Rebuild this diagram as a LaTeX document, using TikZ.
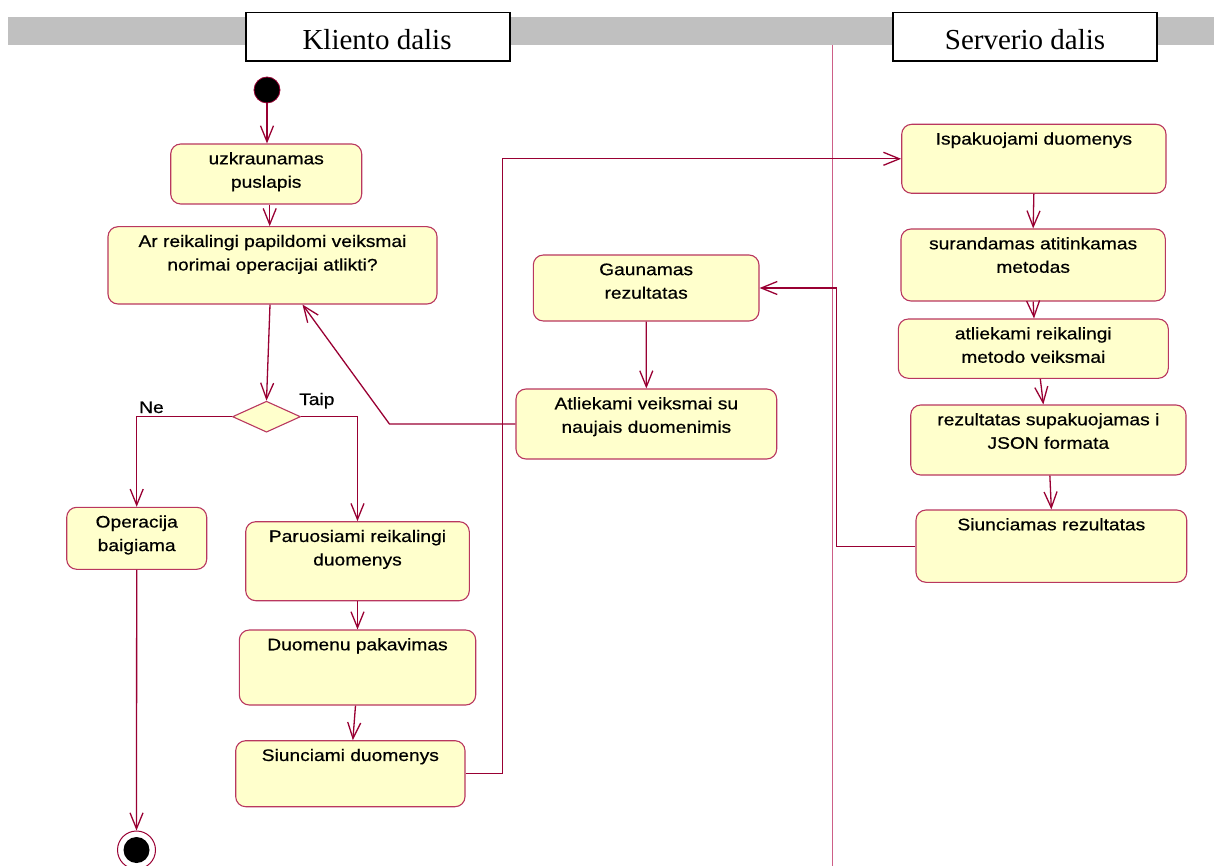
\documentclass[tikz,border=0pt]{standalone}
\usepackage{fontspec}
\usetikzlibrary{arrows.meta,shapes.geometric,fit}
\newfontfamily\umlfont[FakeStretch=1.15,FakeBold=0.6]{Liberation Sans}
\newfontfamily\headfont{Liberation Serif}

\definecolor{umlfill}{RGB}{255,255,204}
\definecolor{umlline}{RGB}{153,0,51}
\definecolor{umlborder}{RGB}{185,55,95}
\definecolor{laneline}{RGB}{205,95,135}
\definecolor{bandgray}{RGB}{192,192,192}

\tikzset{
  actbox/.style={draw=umlborder, line width=1.1pt, fill=umlfill, rounded corners=10pt, inner sep=0pt},
  acttext/.style={font=\umlfont\fontsize{16.7}{23.5}\selectfont, align=center, inner sep=0pt, text=black},
  flow/.style={draw=umlline, line width=1.3pt, -{Straight Barb[length=16pt,width=13pt]}},
  wire/.style={draw=umlline, line width=1.3pt},
  lanehead/.style={draw=black, line width=1.4pt, fill=white, inner sep=0pt},
  headtext/.style={font=\headfont\fontsize{29}{32}\selectfont, inner sep=0pt},
  guard/.style={font=\umlfont\fontsize{16.7}{20}\selectfont, inner sep=0pt},
  decision/.style={diamond, draw=umlborder, line width=1.1pt, fill=umlfill, inner sep=0pt,
                   minimum width=68pt, minimum height=31pt},
}

% activity box: name, left, top, right, bottom, label (top-aligned)
\newcommand\umlact[6]{%
  \node[actbox, fit={(#2,#3) (#4,#5)}] (#1) {};
  \node[acttext, anchor=north] (#1-t) at ([yshift=-8.5pt]#1.north) {\rule{0pt}{12pt}#6};
}

\begin{document}
\begin{tikzpicture}[x=1pt, y=-1pt]
\useasboundingbox (0,0) rectangle (1214,866);

% swimlane header band and divider
\fill[bandgray] (8,17) rectangle (1214,45);
\draw[laneline, line width=1pt] (832.5,45) -- (832.5,866);
\node[lanehead, fit={(246,12.7) (510,61)}] (klient) {};
\node[headtext, anchor=base] (klient-t) at (377,50) {Kliento dalis};
\node[lanehead, fit={(893,12.7) (1157,61)}] (server) {};
\node[headtext, anchor=base] (server-t) at (1025,50) {Serverio dalis};

% initial and final states
\node[circle, fill=black, draw=umlline, line width=0.8pt, minimum size=26pt, inner sep=0pt] (start) at (267,90) {};
\node[circle, draw=umlline, line width=1pt, minimum size=38pt, inner sep=0pt] (end) at (136.5,850) {};
\node[circle, fill=black, minimum size=26pt, inner sep=0pt] (end-dot) at (end.center) {};

% client side activities
\umlact{uzkr}{170.7}{144}{361.7}{204}{uzkraunamas\\puslapis}
\umlact{ar}{108}{226.7}{437}{304}{Ar reikalingi papildomi veiksmai\\norimai operacijai atlikti?}
\node[decision] (dec) at (266.5,416.7) {};
\umlact{oper}{66.7}{507.3}{206.7}{569.3}{Operacija\\baigiama}
\umlact{paru}{245.7}{521.7}{469.3}{600.7}{Paruosiami reikalingi\\duomenys}
\umlact{duom}{239.3}{630}{475.7}{705}{Duomenu pakavimas}
\umlact{siunc}{235.7}{740.7}{465}{806.7}{Siunciami duomenys}
\umlact{gaun}{533.3}{255}{759}{321}{Gaunamas\\rezultatas}
\umlact{atlk}{516}{389}{776.7}{459}{Atliekami veiksmai su\\naujais duomenimis}

% server side activities
\umlact{isp}{901.7}{124.3}{1166}{193.3}{Ispakuojami duomenys}
\umlact{sur}{901}{229}{1165.3}{301}{surandamas atitinkamas\\metodas}
\umlact{metv}{898.3}{319}{1168.3}{378.3}{atliekami reikalingi\\metodo veiksmai}
\umlact{json}{910.7}{405}{1186}{475}{rezultatas supakuojamas i\\JSON formata}
\umlact{siures}{916}{510}{1186.7}{582.3}{Siunciamas rezultatas}

% guards
\node[guard, anchor=base west] (taip) at (299,405) {Taip};
\node[guard, anchor=base west] (ne) at (139,413) {Ne};

% client flow
\draw[flow] (start) -- (start |- uzkr.north);
\draw[flow] ([xshift=3.5pt]uzkr.south) -- ([xshift=3.5pt]uzkr.south |- ar.north);
\draw[flow] ([xshift=-2.5pt]ar.south) -- (dec.north);
\draw[flow] (dec.west) -| (oper.north);
\draw[flow] (dec.east) -| (paru.north);
\draw[flow] (oper.south) -- (end.north);
\draw[flow] (paru.south) -- (duom.north);
\draw[flow] ([xshift=-2pt]duom.south) -- ([xshift=2.5pt]siunc.north);

% request to the server
\draw[flow] (siunc.east) -- ([xshift=37pt]siunc.east) |- (isp.west);

% server flow
\draw[flow] (isp.south) -- (sur.north);
\draw[flow] (sur.south) -- ([xshift=0.7pt]metv.north);
\draw[flow] ([xshift=7pt]metv.south) -- ([xshift=-5pt]json.north);
\draw[flow] ([xshift=1.5pt]json.south) -- (siures.north);

% response back to the client
\draw[flow] (siures.west) -- ([xshift=-79pt]siures.west) |- (gaun.east);
\draw[flow] (gaun.south) -- (atlk.north);
\draw[flow] (atlk.west) -- ([xshift=-126pt]atlk.west) -- ([xshift=30pt]ar.south);
\end{tikzpicture}
\end{document}
